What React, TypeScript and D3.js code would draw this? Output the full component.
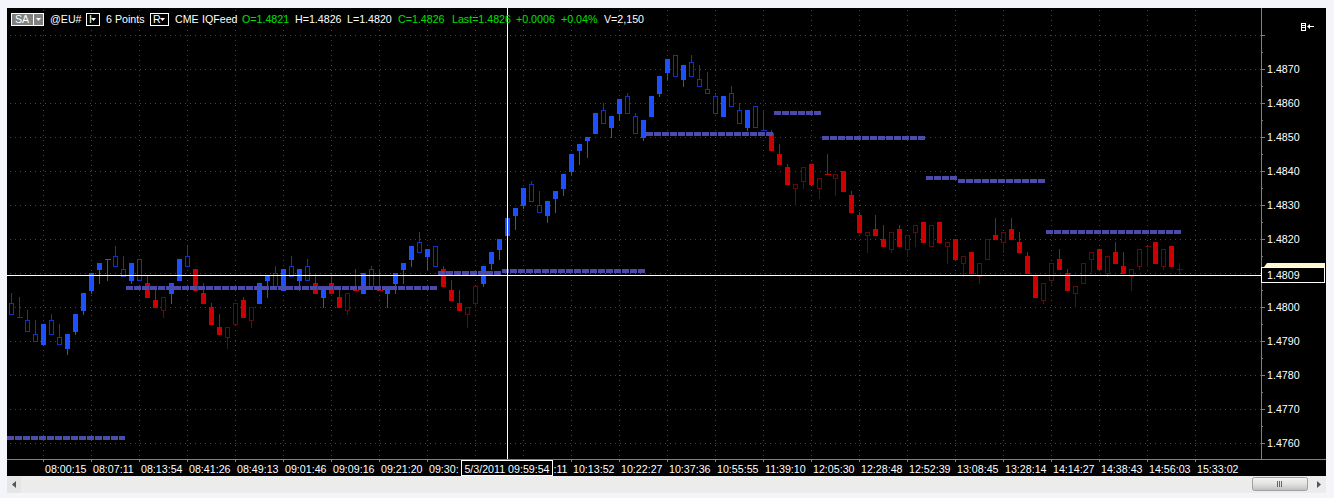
import * as d3 from "d3";

const WIDTH = 1334;
const HEIGHT = 498;
const FONT = "'Liberation Sans', Arial, sans-serif";

// bar kinds: B filled blue, b hollow blue, R filled red, r hollow red
const kinds =
  "bbbbBbbBBB" + "BBBbbBbRRr" + "BBbRRRRrrR" + "rBBbBbBbRB" + "RRrRBbRBBB" +
  "BbBbRRRrrB" + "BBBBBbbBBB" + "BBBBbBBbbB" + "BBBbBbbbbB" + "bbBbbRRRrr" +
  "RrRrRRRrRR" + "rRrrRrRrRr" + "RrrRrRRRRr" + "rRRrrrRrRR" + "rrrRrRr";

const bodyTops = [
  1.4801, 1.4797, 1.4796, 1.4792, 1.4795, 1.4796, 1.4791, 1.4792, 1.4798, 1.4804,
  1.481, 1.4813, 1.4814, 1.4815, 1.4811, 1.4813, 1.4814, 1.4807, 1.4802, 1.4803,
  1.4807, 1.4814, 1.4815, 1.4811, 1.4804, 1.48, 1.4794, 1.4794, 1.4801, 1.4802,
  1.48, 1.4807, 1.4809, 1.481, 1.4811, 1.4812, 1.4811, 1.4812, 1.4807, 1.4806,
  1.4807, 1.4803, 1.4804, 1.4805, 1.481, 1.4811, 1.4805, 1.4806, 1.481, 1.4813,
  1.4818, 1.4819, 1.4817, 1.4818, 1.4811, 1.4805, 1.4801, 1.48, 1.4806, 1.4812,
  1.4816, 1.482, 1.4826, 1.4829, 1.4835, 1.4836, 1.483, 1.4831, 1.4834, 1.4839,
  1.4845, 1.4848, 1.485, 1.4857, 1.4858, 1.4856, 1.4861, 1.4862, 1.4856, 1.4855,
  1.4862, 1.4868, 1.4873, 1.4874, 1.4871, 1.4872, 1.4867, 1.4864, 1.4862, 1.4862,
  1.4863, 1.4858, 1.4858, 1.4859, 1.4852, 1.4851, 1.4845, 1.4841, 1.4836, 1.4841,
  1.4842, 1.4838, 1.4839, 1.4839, 1.484, 1.4833, 1.4827, 1.4822, 1.4823, 1.482,
  1.4822, 1.4823, 1.4821, 1.4824, 1.4825, 1.4824, 1.4825, 1.4819, 1.482, 1.4815,
  1.4816, 1.4813, 1.482, 1.4821, 1.4822, 1.4823, 1.4819, 1.4815, 1.4809, 1.4807,
  1.4813, 1.4814, 1.481, 1.4806, 1.4813, 1.4816, 1.4817, 1.4815, 1.4816, 1.4812,
  1.4811, 1.4817, 1.4818, 1.4819, 1.4817, 1.4818, 1.4811,
];

const bodyBottoms = [
  1.4798, 1.4797, 1.4793, 1.479, 1.4789, 1.4792, 1.4789, 1.4788, 1.4793, 1.4799,
  1.4805, 1.4811, 1.4814, 1.4812, 1.4809, 1.4808, 1.4808, 1.4803, 1.48, 1.4799,
  1.4804, 1.4808, 1.4812, 1.4805, 1.4801, 1.4795, 1.4792, 1.4791, 1.4795, 1.4797,
  1.4796, 1.4801, 1.4808, 1.4806, 1.4805, 1.4809, 1.4808, 1.4808, 1.4804, 1.4803,
  1.4804, 1.48, 1.4799, 1.4805, 1.4804, 1.4806, 1.4805, 1.4804, 1.4807, 1.4811,
  1.4814, 1.4816, 1.4815, 1.4812, 1.4806, 1.4802, 1.4799, 1.4798, 1.4801, 1.4807,
  1.4813, 1.4817, 1.4821, 1.4827, 1.483, 1.4831, 1.4828, 1.4827, 1.4832, 1.4835,
  1.484, 1.4846, 1.4849, 1.4851, 1.4854, 1.4853, 1.4857, 1.4857, 1.4851, 1.485,
  1.4856, 1.4863, 1.4869, 1.4868, 1.4867, 1.4868, 1.4865, 1.4863, 1.4857, 1.4856,
  1.4859, 1.4854, 1.4853, 1.4853, 1.4852, 1.4846, 1.4842, 1.4836, 1.4835, 1.4837,
  1.4836, 1.4835, 1.4839, 1.4838, 1.4834, 1.4828, 1.4822, 1.4821, 1.4821, 1.4818,
  1.4817, 1.4818, 1.4817, 1.4822, 1.4819, 1.4818, 1.4819, 1.4818, 1.4814, 1.4813,
  1.481, 1.4809, 1.4814, 1.482, 1.4819, 1.482, 1.4816, 1.481, 1.4803, 1.4802,
  1.4808, 1.4811, 1.4805, 1.4804, 1.4807, 1.4814, 1.4811, 1.481, 1.4813, 1.481,
  1.4809, 1.4812, 1.4818, 1.4813, 1.4812, 1.4812, 1.4811,
];

const highs = [
  1.4804, 1.4803, 1.4799, 1.4796, 1.4795, 1.4798, 1.4795, 1.4792, 1.4798, 1.4804,
  1.481, 1.4813, 1.4814, 1.4818, 1.4815, 1.4813, 1.4814, 1.4809, 1.4805, 1.4803,
  1.4807, 1.4814, 1.4818, 1.4811, 1.4807, 1.4801, 1.4798, 1.4794, 1.4801, 1.4803,
  1.48, 1.4807, 1.4809, 1.4812, 1.4811, 1.4815, 1.4811, 1.4814, 1.481, 1.4806,
  1.481, 1.4806, 1.4804, 1.4811, 1.481, 1.4812, 1.4811, 1.4806, 1.481, 1.4813,
  1.4818, 1.4822, 1.4817, 1.4818, 1.4812, 1.4808, 1.4805, 1.48, 1.4806, 1.4812,
  1.4816, 1.482, 1.4826, 1.4829, 1.4835, 1.4837, 1.4834, 1.4831, 1.4834, 1.4839,
  1.4845, 1.4848, 1.485, 1.4857, 1.486, 1.4856, 1.4861, 1.4863, 1.4857, 1.4855,
  1.4862, 1.4868, 1.4873, 1.4874, 1.4871, 1.4874, 1.4871, 1.4869, 1.4863, 1.4862,
  1.4865, 1.486, 1.4858, 1.4859, 1.4858, 1.4852, 1.4848, 1.4842, 1.4836, 1.4841,
  1.4842, 1.4838, 1.4845, 1.4839, 1.484, 1.4834, 1.4828, 1.4822, 1.4827, 1.4824,
  1.4822, 1.4824, 1.4821, 1.4824, 1.4825, 1.4824, 1.4825, 1.4819, 1.482, 1.4815,
  1.4816, 1.4813, 1.482, 1.4826, 1.4822, 1.4826, 1.4822, 1.4816, 1.4809, 1.4807,
  1.4813, 1.4817, 1.4811, 1.4806, 1.4813, 1.4816, 1.4817, 1.4815, 1.4819, 1.4816,
  1.4811, 1.4817, 1.4818, 1.4819, 1.4817, 1.4818, 1.4813,
];

const lows = [
  1.4798, 1.4797, 1.4793, 1.479, 1.4789, 1.4792, 1.4789, 1.4786, 1.4792, 1.4798,
  1.4804, 1.4807, 1.4808, 1.4812, 1.4809, 1.4807, 1.4808, 1.4803, 1.48, 1.4797,
  1.4801, 1.4808, 1.4812, 1.4805, 1.4801, 1.4795, 1.4792, 1.4788, 1.4795, 1.4797,
  1.4794, 1.4801, 1.4803, 1.4806, 1.4805, 1.4809, 1.4805, 1.4808, 1.4804, 1.48,
  1.4804, 1.48, 1.4798, 1.4805, 1.4804, 1.4806, 1.4805, 1.48, 1.4804, 1.4807,
  1.4812, 1.4816, 1.4811, 1.4812, 1.4806, 1.4802, 1.4799, 1.4794, 1.48, 1.4806,
  1.4811, 1.4814, 1.482, 1.4823, 1.4829, 1.4831, 1.4828, 1.4825, 1.4828, 1.4833,
  1.4839, 1.4842, 1.4844, 1.4851, 1.4854, 1.485, 1.4855, 1.4857, 1.4851, 1.4849,
  1.4856, 1.4862, 1.4867, 1.4868, 1.4865, 1.4868, 1.4865, 1.4863, 1.4857, 1.4856,
  1.4859, 1.4854, 1.4852, 1.4853, 1.4852, 1.4846, 1.4842, 1.4836, 1.483, 1.4835,
  1.4836, 1.4832, 1.4839, 1.4833, 1.4834, 1.4828, 1.4822, 1.4816, 1.4821, 1.4818,
  1.4816, 1.4818, 1.4815, 1.4818, 1.4819, 1.4818, 1.4819, 1.4813, 1.4814, 1.4809,
  1.481, 1.4807, 1.4814, 1.482, 1.4816, 1.482, 1.4816, 1.481, 1.4803, 1.4801,
  1.4807, 1.4811, 1.4805, 1.48, 1.4807, 1.481, 1.4811, 1.4809, 1.4813, 1.481,
  1.4805, 1.4811, 1.4812, 1.4813, 1.4811, 1.4812, 1.481,
];

// dashed levels: first bar, bar after the last one, price
const levelStarts = [0, 15, 54, 62, 80, 96, 102, 115, 119, 130];
const levelEnds = [15, 54, 62, 80, 96, 102, 115, 119, 130, 147];
const levelPrices = [1.4762, 1.4806, 1.48106, 1.48112, 1.48514, 1.48576, 1.48502, 1.48385, 1.48376, 1.48226];

// the cursor's date box hides the labels around 09:59:54, only the visible parts are kept
const timeLabels = [
  "08:00:15", "08:07:11", "08:13:54", "08:41:26", "08:49:13", "09:01:46", "09:09:16", "09:21:20",
  "09:30:", "", ":11", "10:13:52", "10:22:27", "10:37:36", "10:55:55", "11:39:10",
  "12:05:30", "12:28:48", "12:52:39", "13:08:45", "13:28:14", "14:14:27", "14:38:43", "14:56:03",
  "15:33:02",
];

const priceLabels = d3.range(0, 12).map((k) => (1.487 - k * 0.001).toFixed(4));
const minorPrices = d3.range(0, 25).map((k) => 1.488 - k * 0.0005);

const header = [
  { x: 50, text: "@EU#", color: "#fff" },
  { x: 106, text: "6 Points", color: "#fff" },
  { x: 175, text: "CME", color: "#fff" },
  { x: 202, text: "IQFeed", color: "#fff" },
  { x: 242, text: "O=1.4821", color: "#00e000" },
  { x: 295, text: "H=1.4826", color: "#fff" },
  { x: 347, text: "L=1.4820", color: "#fff" },
  { x: 398, text: "C=1.4826", color: "#00e000" },
  { x: 452, text: "Last=1.4826", color: "#00e000" },
  { x: 516, text: "+0.0006", color: "#00e000" },
  { x: 561, text: "+0.04%", color: "#00e000" },
  { x: 604, text: "V=2,150", color: "#fff" },
];

const BAR_COLORS: Record<string, string> = {
  B: "#1f50ff",
  b: "#1530c4",
  R: "#cc0000",
  r: "#600a0a",
};

const x = d3.scaleLinear().domain([0, 146]).range([11.5, 1179.5]);
const y = d3.scaleLinear().domain([1.487, 1.476]).range([69.3, 443.3]);
const row = (p: number) => Math.floor(y(p));

const CHART = { left: 7, top: 8, right: 1326, bottom: 476, axisX: 1261, axisY: 459 };
const GRID = "#474747";
const AXIS = "#808080";

function DropBox({ bx, w, label }: { bx: number; w: number; label: string }) {
  return (
    <g>
      <rect x={bx + 0.5} y={13.5} width={w} height={12} fill="#000" stroke="#fff" shapeRendering="crispEdges" />
      <text x={bx + 3} y={23} fill="#fff" fontSize={10.67}>{label}</text>
      <path d={`M${bx + w - 8},18 h5 l-2.5,3 z`} fill="#fff" />
    </g>
  );
}

export default function App() {
  const gridXs = d3.range(0, 25).map((k) => Math.floor(x(4 + k * 6)) + 0.5);
  const bars = d3.range(0, kinds.length);

  return (
    <svg
      width={WIDTH}
      height={HEIGHT}
      viewBox={`0 0 ${WIDTH} ${HEIGHT}`}
      style={{ position: "absolute", left: 0, top: 0, display: "block", fontFamily: FONT }}
    >
      <defs>
        <linearGradient id="thumb" x1="0" x2="0" y1="0" y2="1">
          <stop offset="0" stopColor="#f4f4f4" />
          <stop offset="0.5" stopColor="#e2e2e2" />
          <stop offset="1" stopColor="#bdbdbd" />
        </linearGradient>
      </defs>
      <rect width={WIDTH} height={HEIGHT} fill="#f3f5fb" />
      <rect x={CHART.left} y={CHART.top} width={CHART.right - CHART.left} height={CHART.bottom - CHART.top} fill="#000" />

      {/* grid */}
      <g stroke={GRID} strokeDasharray="1 4" shapeRendering="crispEdges">
        {minorPrices.filter((_, k) => k % 2 === 0).map((p) => (
          <line key={p} x1={CHART.left + 3} x2={CHART.axisX} y1={row(p) + 0.5} y2={row(p) + 0.5} />
        ))}
        {gridXs.map((gx) => (
          <line key={gx} x1={gx} x2={gx} y1={CHART.top + 2} y2={CHART.axisY} />
        ))}
      </g>

      {/* candles */}
      <g shapeRendering="crispEdges">
        {bars.map((i) => {
          const kind = kinds[i];
          const color = BAR_COLORS[kind];
          const cx = Math.floor(x(i)) + 0.5;
          const top = row(bodyTops[i]);
          const bottom = row(bodyBottoms[i]);
          const filled = kind === "B" || kind === "R";
          return (
            <g key={i}>
              <line x1={cx} x2={cx} y1={row(highs[i])} y2={row(lows[i]) + 1} stroke={color} />
              {top === bottom ? (
                <line x1={cx - 3} x2={cx + 3} y1={top + 0.5} y2={top + 0.5} stroke={color} />
              ) : filled ? (
                <rect x={cx - 2.5} y={top} width={5} height={bottom - top + 1} fill={color} />
              ) : (
                <rect x={cx - 2} y={top + 0.5} width={4} height={bottom - top} fill="#000" stroke={color} />
              )}
            </g>
          );
        })}
      </g>

      {/* dashed levels */}
      <g stroke="#4c4ca8" strokeWidth={4} strokeDasharray="7 1" shapeRendering="crispEdges">
        {levelPrices.map((p, k) => (
          <line
            key={k}
            x1={Math.max(CHART.left, Math.floor(x(levelStarts[k])) - 5)}
            x2={Math.floor(x(levelEnds[k])) - 6}
            y1={row(p) + 2}
            y2={row(p) + 2}
          />
        ))}
      </g>

      {/* price axis */}
      <line x1={CHART.axisX + 0.5} x2={CHART.axisX + 0.5} y1={CHART.top} y2={CHART.axisY} stroke={AXIS} shapeRendering="crispEdges" />
      {minorPrices.map((p, k) => (
        <line
          key={p}
          x1={CHART.axisX}
          x2={CHART.axisX + (k % 2 === 0 ? 4 : 2)}
          y1={row(p) + 0.5}
          y2={row(p) + 0.5}
          stroke={AXIS}
          shapeRendering="crispEdges"
        />
      ))}
      {priceLabels.map((label) => (
        <text key={label} x={1267} y={row(+label) + 3.5} fill="#fff" fontSize={10.67}>{label}</text>
      ))}

      {/* time axis */}
      <line x1={CHART.left} x2={CHART.right} y1={CHART.axisY + 0.5} y2={CHART.axisY + 0.5} stroke={AXIS} shapeRendering="crispEdges" />
      {gridXs.map((gx, k) => (
        <g key={gx}>
          <line x1={gx} x2={gx} y1={CHART.axisY} y2={CHART.axisY + 3} stroke={AXIS} shapeRendering="crispEdges" />
          {timeLabels[k] === ":11" ? (
            <text x={gx + 44} y={473} fill="#fff" fontSize={10.67} textAnchor="end">{timeLabels[k]}</text>
          ) : (
            <text x={gx + 1.5} y={473} fill="#fff" fontSize={10.67}>{timeLabels[k]}</text>
          )}
        </g>
      ))}

      {/* crosshair */}
      <g stroke="#fff" shapeRendering="crispEdges">
        <line x1={CHART.left} x2={CHART.axisX} y1={275.5} y2={275.5} />
        <line x1={507.5} x2={507.5} y1={CHART.top} y2={CHART.axisY} />
      </g>
      <rect x={461.5} y={460.5} width={91} height={15} fill="#000" stroke="#fff" shapeRendering="crispEdges" />
      <text x={507} y={473} fill="#fff" fontSize={10.67} textAnchor="middle">5/3/2011 09:59:54</text>

      {/* last price tag */}
      <path d="M1264,267 L1267,263 H1325 V267 Z" fill="#fff8d2" />
      <rect x={1261.5} y={267.5} width={63} height={15} fill="#000" stroke="#fff" shapeRendering="crispEdges" />
      <text x={1267} y={279} fill="#fff" fontSize={10.67}>1.4809</text>

      {/* header strip */}
      <g fontFamily={FONT}>
        <rect x={11.5} y={13.5} width={32} height={12} fill="#808080" stroke="#fff" shapeRendering="crispEdges" />
        <line x1={33.5} x2={33.5} y1={13} y2={25} stroke="#fff" shapeRendering="crispEdges" />
        <text x={15} y={23} fill="#fff" fontSize={10.67}>SA</text>
        <path d="M36,18 h5 l-2.5,3 z" fill="#fff" />
        <DropBox bx={86} w={13} label="I" />
        <DropBox bx={150} w={18} label="R" />
        {header.map((h) => (
          <text key={h.text} x={h.x} y={23} fill={h.color} fontSize={10.67}>{h.text}</text>
        ))}
      </g>

      {/* list icon */}
      <g fill="none" stroke="#fff" shapeRendering="crispEdges">
        <rect x={1301.5} y={23.5} width={4} height={7} />
        <path d="M1302,25.5 h3 M1302,27.5 h3" />
        <path d="M1309,26.5 h5" />
      </g>
      <path d="M1307,26.5 l3,-2.5 v5 z" fill="#fff" />

      {/* scrollbar */}
      <rect x={CHART.left} y={CHART.bottom} width={CHART.right - CHART.left} height={17} fill="#ececec" />
      <rect x={CHART.left} y={CHART.bottom} width={14} height={17} fill="#e6e6e6" />
      <path d="M12,484.5 l4,-3.5 v7 z" fill="#555" />
      <rect x={1252.5} y={477.5} width={55} height={13} rx={2} fill="url(#thumb)" stroke="#a0a0a0" />
      <path d="M1277.5,481 v6 M1279.5,481 v6 M1281.5,481 v6" stroke="#666" shapeRendering="crispEdges" />
      <path d="M1321,484.5 l-4,-3.5 v7 z" fill="#555" />
    </svg>
  );
}
